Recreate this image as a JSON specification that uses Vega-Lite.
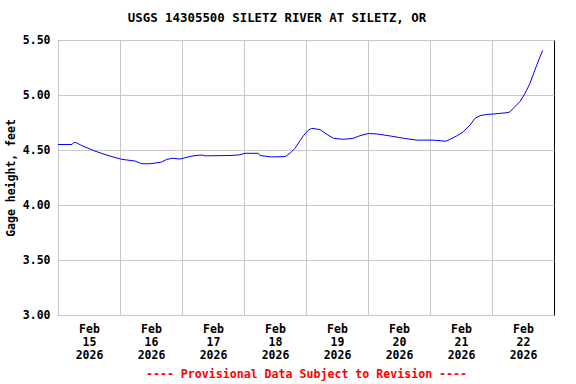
{
  "$schema": "https://vega.github.io/schema/vega-lite/v6.json",
  "width": 496,
  "height": 275,
  "autosize": "none",
  "padding": {"left": 58, "top": 40, "right": 22, "bottom": 69},
  "background": "white",
  "title": {
    "text": "USGS 14305500 SILETZ RIVER AT SILETZ, OR",
    "font": "DejaVu Sans Mono",
    "fontWeight": "bold",
    "fontSize": 12.4,
    "color": "black",
    "anchor": "middle",
    "dx": -29,
    "offset": 10
  },
  "config": {
    "view": {"stroke": "black", "strokeWidth": 1},
    "axis": {
      "labelFont": "DejaVu Sans Mono",
      "labelFontWeight": "bold",
      "labelFontSize": 11.5,
      "labelColor": "black",
      "titleFont": "DejaVu Sans Mono",
      "titleFontWeight": "bold",
      "titleFontSize": 11.5,
      "titleColor": "black",
      "gridColor": "#c8c8c8",
      "gridOpacity": 1,
      "gridWidth": 1,
      "ticks": false,
      "domain": false
    }
  },
  "data": {
    "values": [
      {"t": "2026-02-15T00:00", "v": 4.55},
      {"t": "2026-02-15T05:24", "v": 4.55},
      {"t": "2026-02-15T06:00", "v": 4.567},
      {"t": "2026-02-15T07:00", "v": 4.567},
      {"t": "2026-02-15T09:12", "v": 4.54},
      {"t": "2026-02-15T14:18", "v": 4.49},
      {"t": "2026-02-15T19:24", "v": 4.45},
      {"t": "2026-02-16T00:42", "v": 4.415},
      {"t": "2026-02-16T05:48", "v": 4.40},
      {"t": "2026-02-16T08:24", "v": 4.375},
      {"t": "2026-02-16T11:36", "v": 4.375},
      {"t": "2026-02-16T16:06", "v": 4.39},
      {"t": "2026-02-16T18:06", "v": 4.415},
      {"t": "2026-02-16T20:30", "v": 4.425},
      {"t": "2026-02-16T23:12", "v": 4.418},
      {"t": "2026-02-17T03:48", "v": 4.445},
      {"t": "2026-02-17T07:36", "v": 4.455},
      {"t": "2026-02-17T08:54", "v": 4.447},
      {"t": "2026-02-17T18:36", "v": 4.45},
      {"t": "2026-02-17T22:00", "v": 4.455},
      {"t": "2026-02-18T00:24", "v": 4.47},
      {"t": "2026-02-18T05:30", "v": 4.47},
      {"t": "2026-02-18T06:12", "v": 4.45},
      {"t": "2026-02-18T10:42", "v": 4.437},
      {"t": "2026-02-18T15:54", "v": 4.44},
      {"t": "2026-02-18T17:48", "v": 4.47},
      {"t": "2026-02-18T19:42", "v": 4.515},
      {"t": "2026-02-18T21:42", "v": 4.585},
      {"t": "2026-02-18T23:00", "v": 4.63},
      {"t": "2026-02-19T00:54", "v": 4.68},
      {"t": "2026-02-19T02:12", "v": 4.697},
      {"t": "2026-02-19T05:24", "v": 4.686},
      {"t": "2026-02-19T08:00", "v": 4.643},
      {"t": "2026-02-19T10:36", "v": 4.607},
      {"t": "2026-02-19T14:24", "v": 4.597},
      {"t": "2026-02-19T18:18", "v": 4.606},
      {"t": "2026-02-19T20:54", "v": 4.63},
      {"t": "2026-02-20T00:06", "v": 4.65},
      {"t": "2026-02-20T03:24", "v": 4.646},
      {"t": "2026-02-20T08:30", "v": 4.628},
      {"t": "2026-02-20T13:42", "v": 4.607},
      {"t": "2026-02-20T18:54", "v": 4.59},
      {"t": "2026-02-21T00:48", "v": 4.59},
      {"t": "2026-02-21T06:12", "v": 4.58},
      {"t": "2026-02-21T07:42", "v": 4.597},
      {"t": "2026-02-21T10:18", "v": 4.627},
      {"t": "2026-02-21T12:54", "v": 4.667},
      {"t": "2026-02-21T15:30", "v": 4.727},
      {"t": "2026-02-21T17:24", "v": 4.788},
      {"t": "2026-02-21T19:24", "v": 4.812},
      {"t": "2026-02-21T22:00", "v": 4.824},
      {"t": "2026-02-22T00:30", "v": 4.827},
      {"t": "2026-02-22T03:06", "v": 4.833},
      {"t": "2026-02-22T06:12", "v": 4.84},
      {"t": "2026-02-22T07:00", "v": 4.848},
      {"t": "2026-02-22T08:18", "v": 4.88},
      {"t": "2026-02-22T10:48", "v": 4.94},
      {"t": "2026-02-22T12:48", "v": 5.015},
      {"t": "2026-02-22T14:42", "v": 5.106},
      {"t": "2026-02-22T16:36", "v": 5.227},
      {"t": "2026-02-22T18:36", "v": 5.348},
      {"t": "2026-02-22T19:36", "v": 5.405}
    ]
  },
  "mark": {"type": "line", "color": "#0000ff", "strokeWidth": 1, "interpolate": "linear"},
  "encoding": {
    "x": {
      "field": "t",
      "type": "temporal",
      "scale": {"domain": ["2026-02-15T00:00", "2026-02-23T00:00"], "nice": false},
      "axis": {
        "values": ["2026-02-15T00:00", "2026-02-16T00:00", "2026-02-17T00:00", "2026-02-18T00:00", "2026-02-19T00:00", "2026-02-20T00:00", "2026-02-21T00:00", "2026-02-22T00:00"],
        "labelExpr": "[timeFormat(datum.value, '%b'), timeFormat(datum.value, '%d'), timeFormat(datum.value, '%Y')]",
        "labelOffset": 31,
        "labelPadding": 8,
        "labelBaseline": "top",
        "labelLineHeight": 13,
        "labelAlign": "center",
        "labelFlush": false,
        "labelOverlap": false,
        "grid": true,
        "title": "---- Provisional Data Subject to Revision ----",
        "titleColor": "#ff0000",
        "titleFontSize": 11.6,
        "titlePadding": 8
      }
    },
    "y": {
      "field": "v",
      "type": "quantitative",
      "scale": {"domain": [3, 5.5], "nice": false, "zero": false},
      "axis": {
        "values": [3, 3.5, 4, 4.5, 5, 5.5],
        "format": ".2f",
        "labelPadding": 8,
        "labelBaseline": "middle",
        "labelFlush": false,
        "grid": true,
        "title": "Gage height, feet",
        "titlePadding": 6
      }
    }
  }
}
